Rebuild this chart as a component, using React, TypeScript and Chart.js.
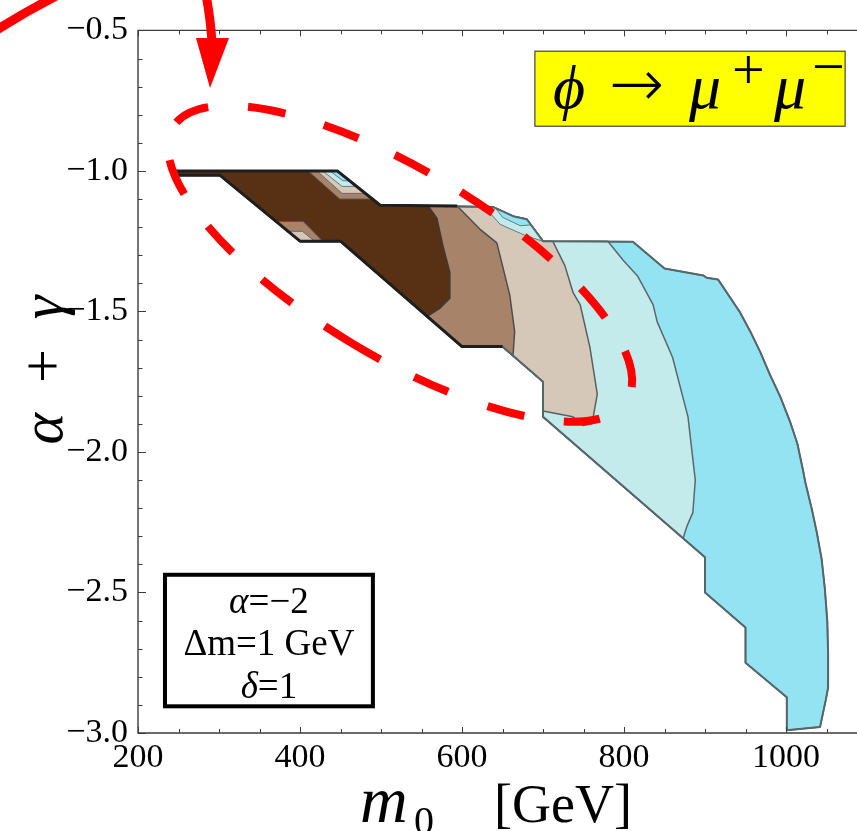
import React, { useEffect, useRef } from "react";
import { Chart, registerables } from "chart.js";

Chart.register(...registerables);

type P = [number, number];

// ---------- axes ----------
const xRange: P = [200, 1100];
const yRange: P = [-3.0, -0.5];
const xTickLabels = [200, 400, 600, 800, 1000];
const yTickLabels = [-3.0, -2.5, -2.0, -1.5, -1.0, -0.5];
const xMinorStep = 50;
const yMinorStep = 0.1;

// ---------- allowed-region outline (m0 [GeV], alpha+gamma) ----------
const outlineTop: P[] = [
  [245, -1.0], [446, -1.0], [499, -1.122], [638, -1.128], [663, -1.161],
  [680, -1.172], [700, -1.25], [811, -1.252], [850, -1.347], [898, -1.372],
  [902, -1.38], [916, -1.386],
];
const outlineRight: P[] = [
  [943, -1.502], [956, -1.572], [968, -1.643], [980, -1.724], [993, -1.804],
  [1005, -1.892], [1014, -1.97], [1021, -2.065], [1024, -2.11], [1032, -2.205],
  [1038, -2.286], [1044, -2.381], [1048, -2.487], [1051, -2.603], [1052, -2.719],
  [1052, -2.838], [1049, -2.884], [1042, -2.979],
];
const outlineBottom: P[] = [
  [1001, -2.99], [1001, -2.873], [950, -2.75], [950, -2.625], [900, -2.5],
  [900, -2.375], [700, -1.875], [700, -1.75], [650, -1.625], [600, -1.625],
  [450, -1.25], [400, -1.25], [301, -1.015], [245, -1.015],
];

// ---------- contour boundaries (top -> bottom) ----------
const bDarkBrown: P[] = [
  [558, -1.124], [569, -1.168], [576.5, -1.267], [585, -1.361], [585, -1.453],
  [573, -1.488], [557, -1.5175],
];
const bMedBrown: P[] = [
  [594, -1.125], [622, -1.207], [643, -1.256], [659, -1.442], [665, -1.572],
  [663, -1.657],
];
const bTan: P[] = [
  [712, -1.25], [727, -1.337], [737, -1.432], [746, -1.477], [758, -1.629],
  [767, -1.794], [760.5, -1.9], [749, -1.906], [737, -1.875], [700, -1.854],
];
const bLightCyan: P[] = [
  [780, -1.25], [799, -1.318], [817, -1.375], [836, -1.477], [841, -1.537],
  [860, -1.664], [879, -1.875], [888, -2.1], [885, -2.216], [878, -2.262],
  [873, -2.307],
];

// ---------- small pockets along the stepped edge ----------
const pocketTopMed: P[] = [[410, -1.0], [446, -1.0], [489, -1.1], [449, -1.1]];
const pocketTopTan: P[] = [[421, -1.0], [446, -1.0], [481, -1.08], [452, -1.08]];
const pocketTopLightCyan: P[] = [[428, -1.0], [446, -1.0], [470, -1.055], [452, -1.055]];
const pocketTopCyan: P[] = [[437, -1.0], [446, -1.0], [461, -1.035], [453, -1.035]];
const pocketLowMed: P[] = [[370, -1.18], [404, -1.18], [428, -1.25], [400, -1.25]];
const pocketLowTan: P[] = [[385, -1.215], [403, -1.215], [418, -1.25], [400, -1.25]];
const pocketMidLightCyan: P[] = [
  [628, -1.128], [638, -1.128], [663, -1.161], [680, -1.172], [700, -1.25],
  [680, -1.232], [647, -1.19],
];
const pocketMidCyan: P[] = [
  [641, -1.131], [663, -1.161], [680, -1.172], [685, -1.192], [672, -1.195], [650, -1.165],
];

// ---------- red dashed ellipse dash pattern (px, clockwise from its right end) ----------
const ellipseDashes = [
  36, 40, 38, 42, 37, 38, 65, 40, 38, 40, 36, 40, 37, 40, 36, 40,
  38, 40, 37, 40, 38, 38, 38, 39, 35, 42, 38, 39, 37, 38,
];

// ---------- colours ----------
const cDark = "#583115";
const cMed = "#a78469";
const cTan = "#d5c8b9";
const cLightCyan = "#c4ebec";
const cCyan = "#94e3f3";
const cEdge = "#5b676a";

const SERIF = '"Liberation Serif", "DejaVu Serif", serif';

const xy = (pts: P[]) => pts.map(([x, y]) => ({ x, y }));
const closed = (pts: P[]) => [...pts, pts[0]];

function regionDs(pts: P[], color: string, order: number, edge = cEdge, width = 1.5) {
  return {
    data: xy(closed(pts)),
    fill: "shape",
    backgroundColor: color,
    borderColor: edge,
    borderWidth: width,
    pointRadius: 0,
    pointHoverRadius: 0,
    tension: 0,
    order,
  };
}
function lineDs(pts: P[], color: string, width: number, order: number) {
  return {
    data: xy(pts),
    fill: false,
    borderColor: color,
    borderWidth: width,
    pointRadius: 0,
    pointHoverRadius: 0,
    tension: 0,
    order,
  };
}

const fullOutline: P[] = [...outlineTop, ...outlineRight, ...outlineBottom];
const regionCyan = fullOutline;
const regionLightCyan: P[] = [...outlineTop.slice(0, 7), ...bLightCyan, ...outlineBottom.slice(6)];
const regionTan: P[] = [...outlineTop.slice(0, 7), ...bTan, ...outlineBottom.slice(7)];
const regionMed: P[] = [...outlineTop.slice(0, 3), ...bMedBrown, ...outlineBottom.slice(8)];
const regionDark: P[] = [...outlineTop.slice(0, 3), ...bDarkBrown, ...outlineBottom.slice(10)];
const darkEdge: P[] = [...outlineBottom.slice(8), ...outlineTop.slice(0, 3), bMedBrown[0]];

const fmt = (v: number) => (v < 0 ? "\u2212" : "") + Math.abs(v).toFixed(1);

function drawPieces(
  ctx: CanvasRenderingContext2D,
  pieces: { t: string; f: string }[],
  cx: number,
  baseline: number
) {
  let total = 0;
  const widths = pieces.map((p) => {
    ctx.font = p.f;
    const w = ctx.measureText(p.t).width;
    total += w;
    return w;
  });
  let x = cx - total / 2;
  pieces.forEach((p, i) => {
    ctx.font = p.f;
    ctx.fillText(p.t, x, baseline);
    x += widths[i];
  });
}

const decor = {
  id: "decor",
  afterDatasetsDraw(chart: any) {
    const { ctx, chartArea: a, scales } = chart;
    const sx = scales.x;
    const sy = scales.y;
    ctx.save();
    ctx.strokeStyle = "#3c3c3c";
    ctx.lineWidth = 1.4;
    ctx.beginPath();
    ctx.moveTo(a.right + 5, a.top);
    ctx.lineTo(a.left, a.top);
    ctx.lineTo(a.left, a.bottom);
    ctx.lineTo(a.right + 5, a.bottom);
    ctx.stroke();
    ctx.lineWidth = 1;
    ctx.beginPath();
    for (let v = xRange[0]; v <= xRange[1] + 1e-6; v += xMinorStep) {
      const px = Math.round(sx.getPixelForValue(v)) + 0.5;
      const len = xTickLabels.includes(v) ? 6 : 4;
      ctx.moveTo(px, a.bottom);
      ctx.lineTo(px, a.bottom - len);
      ctx.moveTo(px, a.top);
      ctx.lineTo(px, a.top + len);
    }
    const n = Math.round((yRange[1] - yRange[0]) / yMinorStep);
    for (let i = 0; i <= n; i++) {
      const v = yRange[0] + i * yMinorStep;
      const major = Math.abs(v * 2 - Math.round(v * 2)) < 1e-6;
      const py = Math.round(sy.getPixelForValue(v)) + 0.5;
      ctx.moveTo(a.left, py);
      ctx.lineTo(a.left + (major ? 8 : 4.5), py);
    }
    ctx.stroke();
    ctx.restore();
  },
  afterDraw(chart: any) {
    const { ctx, scales } = chart;
    const sx = scales.x;
    const sy = scales.y;
    ctx.save();
    ctx.fillStyle = "#000";
    ctx.textBaseline = "alphabetic";

    // title box
    const tL = sx.getPixelForValue(690), tR = sx.getPixelForValue(1073);
    const tT = sy.getPixelForValue(-0.574), tB = sy.getPixelForValue(-0.841);
    ctx.fillStyle = "#ffff00";
    ctx.fillRect(tL, tT, tR - tL, tB - tT);
    ctx.strokeStyle = "#444";
    ctx.lineWidth = 1.2;
    ctx.strokeRect(tL, tT, tR - tL, tB - tT);
    ctx.fillStyle = "#000";
    const base = tT + 57;
    ctx.font = `italic 62px ${SERIF}`;
    ctx.fillText("\u03D5", tL + 18, base);
    ctx.font = `200 66px "DejaVu Sans", sans-serif`;
    ctx.fillText("\u2192", tL + 74, base - 2);
    ctx.font = `italic 64px ${SERIF}`;
    ctx.fillText("\u03BC", tL + 154, base);
    ctx.font = `58px ${SERIF}`;
    ctx.fillText("+", tL + 197, base - 19);
    ctx.font = `italic 64px ${SERIF}`;
    ctx.fillText("\u03BC", tL + 239, base);
    ctx.font = `58px ${SERIF}`;
    ctx.fillText("\u2212", tL + 277, base - 22);

    // parameter box
    const bL = sx.getPixelForValue(233.3), bR = sx.getPixelForValue(490);
    const bT = sy.getPixelForValue(-2.437), bB = sy.getPixelForValue(-2.905);
    ctx.fillStyle = "#fff";
    ctx.fillRect(bL, bT, bR - bL, bB - bT);
    ctx.strokeStyle = "#000";
    ctx.lineWidth = 4;
    ctx.strokeRect(bL, bT, bR - bL, bB - bT);
    ctx.fillStyle = "#000";
    const cx = (bL + bR) / 2;
    const fU = `37px ${SERIF}`;
    const fI = `italic 37px ${SERIF}`;
    drawPieces(ctx, [{ t: "\u03B1", f: fI }, { t: "=\u22122", f: fU }], cx, bT + 38);
    drawPieces(ctx, [{ t: "\u0394m=1 GeV", f: fU }], cx, bT + 80);
    drawPieces(ctx, [{ t: "\u03B4", f: fI }, { t: "=1", f: fU }], cx, bT + 123);

    // x axis title
    ctx.font = `italic 66px ${SERIF}`;
    ctx.fillText("m", 360, 822);
    ctx.font = `40px ${SERIF}`;
    ctx.fillText("0", 414, 834);
    ctx.font = `54px ${SERIF}`;
    ctx.fillText("[GeV]", 494, 822);

    // y axis title (rotated)
    ctx.save();
    ctx.translate(62, 370);
    ctx.rotate(-Math.PI / 2);
    drawPieces(
      ctx,
      [
        { t: "\u03B1", f: `italic 60px ${SERIF}` },
        { t: "\u2002+\u2002", f: `60px ${SERIF}` },
        { t: "\u03B3", f: `italic 60px ${SERIF}` },
      ],
      0,
      0
    );
    ctx.restore();

    // red dashed ellipse
    const ex = sx.getPixelForValue(523.5), ey = sy.getPixelForValue(-1.33);
    const per = ellipseDashes.reduce((s, v) => s + v, 0);
    ctx.strokeStyle = "#ff0000";
    ctx.lineWidth = 8;
    ctx.setLineDash(ellipseDashes);
    ctx.lineDashOffset = per - 34;
    ctx.beginPath();
    ctx.ellipse(ex, ey, 265, 93, (31 * Math.PI) / 180, 0, Math.PI * 2);
    ctx.stroke();
    ctx.setLineDash([]);

    // red arrow
    ctx.lineWidth = 9;
    ctx.beginPath();
    ctx.moveTo(-5, 31);
    ctx.quadraticCurveTo(25, 12, 58, -5);
    ctx.stroke();
    ctx.beginPath();
    ctx.moveTo(206, -5);
    ctx.quadraticCurveTo(210, 15, 212, 42);
    ctx.stroke();
    ctx.fillStyle = "#ff0000";
    ctx.beginPath();
    ctx.moveTo(196, 38);
    ctx.lineTo(229, 38);
    ctx.lineTo(210, 88);
    ctx.closePath();
    ctx.fill();
    ctx.restore();
  },
};

export default function App() {
  const ref = useRef<HTMLCanvasElement | null>(null);
  useEffect(() => {
    if (!ref.current) return;
    const tickFont = { family: SERIF, size: 34 };
    const chart = new Chart(ref.current, {
      type: "line",
      data: {
        datasets: [
          lineDs(darkEdge, "#1e1e1e", 3, 0),
          lineDs(closed(fullOutline), "#56676b", 2, 1),
          regionDs(pocketTopCyan, cCyan, 2, "#6a7a7e", 1),
          regionDs(pocketTopLightCyan, cLightCyan, 3, "#6a7a7e", 1),
          regionDs(pocketTopTan, cTan, 4, "#6a6a6a", 1),
          regionDs(pocketTopMed, cMed, 5, "#555", 1),
          regionDs(pocketLowTan, cTan, 4, "#6a6a6a", 1),
          regionDs(pocketLowMed, cMed, 5, "#555", 1),
          regionDs(pocketMidCyan, cCyan, 2, "#6a7a7e", 1),
          regionDs(pocketMidLightCyan, cLightCyan, 3, "#6a7a7e", 1),
          regionDs(regionDark, cDark, 10, "#3a3a3a"),
          regionDs(regionMed, cMed, 11, "#4d4d4d"),
          regionDs(regionTan, cTan, 12, "#5a5f60"),
          regionDs(regionLightCyan, cLightCyan, 13),
          regionDs(regionCyan, cCyan, 14),
        ] as any,
      },
      options: {
        responsive: false,
        animation: false,
        devicePixelRatio: 1,
        events: [],
        layout: { padding: { top: 22, left: 0, right: 0, bottom: 0 } },
        elements: { line: { borderJoinStyle: "round" } },
        plugins: {
          legend: { display: false },
          tooltip: { enabled: false },
          title: { display: false },
        },
        scales: {
          x: {
            type: "linear",
            min: xRange[0],
            max: xRange[1],
            grid: { display: false, drawTicks: false },
            border: { display: false },
            ticks: { font: tickFont, color: "#000", padding: 5, callback: (v: any) => String(v) },
            afterBuildTicks: (s: any) => {
              s.ticks = xTickLabels.map((v) => ({ value: v }));
            },
            afterFit: (s: any) => {
              s.height = 98;
            },
          },
          y: {
            type: "linear",
            min: yRange[0],
            max: yRange[1],
            grid: { display: false, drawTicks: false },
            border: { display: false },
            ticks: { font: tickFont, color: "#000", padding: 10, callback: (v: any) => fmt(Number(v)) },
            afterBuildTicks: (s: any) => {
              s.ticks = yTickLabels.map((v) => ({ value: v }));
            },
            afterFit: (s: any) => {
              s.width = 138;
            },
          },
        },
      } as any,
      plugins: [decor],
    });
    return () => chart.destroy();
  }, []);
  return (
    <div
      style={{
        position: "fixed",
        left: 0,
        top: 0,
        width: "100vw",
        height: "100vh",
        overflow: "hidden",
        background: "#fff",
      }}
    >
      <canvas ref={ref} width={867} height={831} style={{ display: "block", width: 867, height: 831 }} />
    </div>
  );
}
